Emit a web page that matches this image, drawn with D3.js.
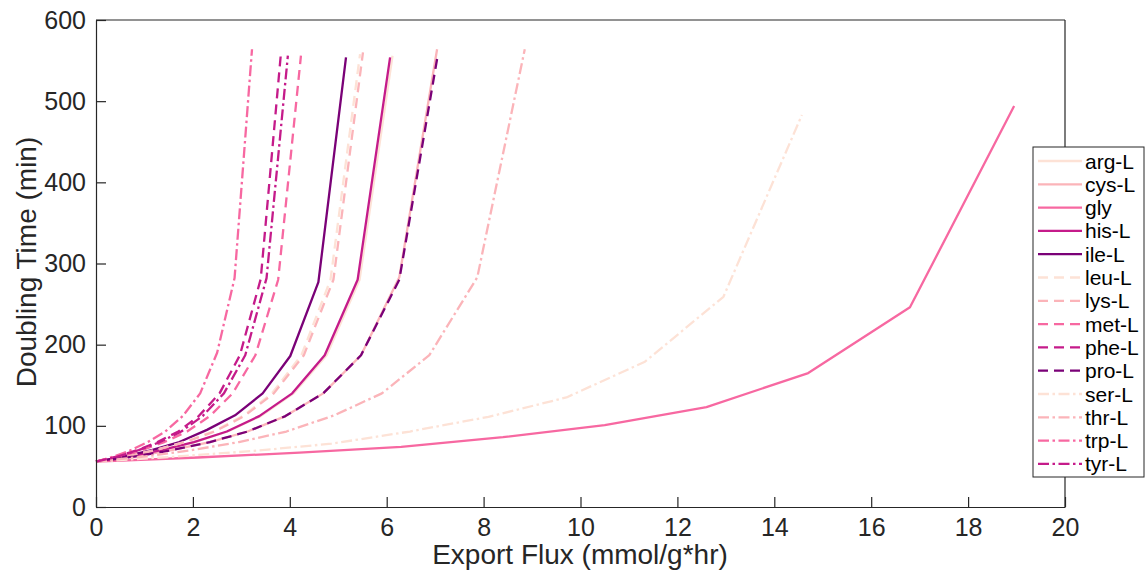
<!DOCTYPE html>
<html>
<head>
<meta charset="utf-8">
<script src="https://cdn.jsdelivr.net/npm/d3@7"></script>
<style>
  html, body { margin: 0; padding: 0; background: #fff; }
  svg { display: block; font-family: "Liberation Sans", Arial, Helvetica, sans-serif; }
</style>
</head>
<body>
<svg id="chart" width="1147" height="571"></svg>
<script>
// ---------------- data ----------------
const seriesNames = ["arg-L","cys-L","gly","his-L","ile-L","leu-L","lys-L","met-L","phe-L","pro-L","ser-L","thr-L","trp-L","tyr-L"];

const fluxArg = [0,0.68,1.36,2.04,2.72,3.40,4.08,4.76,5.44,6.12];
const timeArg = [56,62,70,80,93,112,140,187,280,556];
const fluxCys = [0,0.78,1.56,2.35,3.13,3.91,4.69,5.47,6.26,7.04];
const timeCys = [56,62,70,80,93,112,140,187,283,564];
const fluxGly = [0,2.1,4.2,6.3,8.4,10.5,12.6,14.7,16.8,18.95];
const timeGly = [56,61,67,74,86,101,123,165,246,494];
const fluxHis = [0,0.67,1.35,2.02,2.70,3.37,4.05,4.72,5.40,6.07];
const timeHis = [56,62,70,80,93,112,140,187,280,554];
const fluxIle = [0,0.57,1.15,1.72,2.29,2.87,3.44,4.01,4.59,5.16];
const timeIle = [56,62,70,80,95,113,140,186,277,554];
const fluxLeu = [0,0.61,1.21,1.82,2.42,3.03,3.63,4.24,4.84,5.45];
const timeLeu = [56,62,70,80,93,112,140,187,280,558];
const fluxLys = [0,0.61,1.22,1.84,2.45,3.06,3.67,4.29,4.90,5.51];
const timeLys = [56,62,70,80,93,112,140,187,280,560];
const fluxMet = [0,0.47,0.94,1.41,1.88,2.35,2.82,3.29,3.76,4.23];
const timeMet = [56,62,70,80,93,112,140,187,280,556];
const fluxPhe = [0,0.42,0.85,1.27,1.70,2.12,2.55,2.97,3.40,3.82];
const timePhe = [56,62,70,80,93,112,140,187,281,561];
const fluxPro = [0,0.78,1.56,2.35,3.13,3.91,4.69,5.47,6.26,7.04];
const timePro = [56,62,70,80,93,112,140,187,280,552];
const fluxSer = [0,1.62,3.24,4.86,6.48,8.10,9.71,11.33,12.95,14.57];
const timeSer = [56,62,69,78,93,111,135,179,259,483];
const fluxThr = [0,0.98,1.97,2.95,3.93,4.92,5.90,6.88,7.87,8.85];
const timeThr = [56,62,70,80,93,113,140,187,283,564];
const fluxTrp = [0,0.36,0.72,1.07,1.43,1.79,2.15,2.50,2.86,3.22];
const timeTrp = [56,62,70,80,93,112,140,190,282,564];
const fluxTyr = [0,0.44,0.88,1.32,1.76,2.20,2.64,3.08,3.52,3.96];
const timeTyr = [56,62,70,80,93,112,140,187,282,556];

const xTicks = [0,2,4,6,8,10,12,14,16,18,20];
const yTicks = [0,100,200,300,400,500,600];

// ---------------- styles ----------------
const palette = ["#fde2d6","#fbb4b9","#f768a1","#c51b8a","#7a0177"];
const dashStyles = { solid: null, dashed: "10,6", dashdot: "11,3.5,2.5,3.5" };
const lineKinds = ["solid","solid","solid","solid","solid","dashed","dashed","dashed","dashed","dashed","dashdot","dashdot","dashdot","dashdot"];
const lineColors = [0,1,2,3,4,0,1,2,3,4,0,1,2,3].map(i => palette[i]);

const fluxData = [fluxArg,fluxCys,fluxGly,fluxHis,fluxIle,fluxLeu,fluxLys,fluxMet,fluxPhe,fluxPro,fluxSer,fluxThr,fluxTrp,fluxTyr];
const timeData = [timeArg,timeCys,timeGly,timeHis,timeIle,timeLeu,timeLys,timeMet,timePhe,timePro,timeSer,timeThr,timeTrp,timeTyr];

// ---------------- layout ----------------
const svg = d3.select("#chart");
const pLeft = 96, pRight = 1065, pTop = 20, pBottom = 507;
const axisColor = "#262626";

const x = d3.scaleLinear().domain([0, 20]).range([pLeft, pRight]);
const y = d3.scaleLinear().domain([0, 600]).range([pBottom, pTop]);

// lines
const line = d3.line().x(d => x(d[0])).y(d => y(d[1]));
seriesNames.forEach((name, i) => {
  const pts = fluxData[i].map((f, j) => [f, timeData[i][j]]);
  svg.append("path")
    .datum(pts)
    .attr("d", line)
    .attr("fill", "none")
    .attr("stroke", lineColors[i])
    .attr("stroke-width", 2.3)
    .attr("stroke-linejoin", "round")
    .attr("stroke-dasharray", dashStyles[lineKinds[i]]);
});

// axes
const xAxis = d3.axisBottom(x).tickValues(xTicks).tickSizeInner(-10).tickSizeOuter(0).tickPadding(11).tickFormat(d3.format("d"));
const yAxis = d3.axisLeft(y).tickValues(yTicks).tickSizeInner(-10).tickSizeOuter(0).tickPadding(10).tickFormat(d3.format("d"));

const gx = svg.append("g").attr("transform", `translate(0,${pBottom})`).call(xAxis);
const gy = svg.append("g").attr("transform", `translate(${pLeft},0)`).call(yAxis);
[gx, gy].forEach(g => {
  g.select(".domain").attr("stroke", axisColor).attr("stroke-width", 1.2);
  g.selectAll(".tick line").attr("stroke", axisColor).attr("stroke-width", 1.2);
  g.selectAll(".tick text").attr("fill", axisColor).style("font-size", "25px");
});

// box top/right
svg.append("line").attr("x1", pLeft).attr("x2", pRight).attr("y1", pTop).attr("y2", pTop)
  .attr("stroke", axisColor).attr("stroke-width", 1.2);
svg.append("line").attr("x1", pRight).attr("x2", pRight).attr("y1", pTop).attr("y2", pBottom)
  .attr("stroke", axisColor).attr("stroke-width", 1.2);

// axis labels
svg.append("text").attr("x", 580).attr("y", 564)
  .attr("text-anchor", "middle").attr("fill", axisColor).style("font-size", "28px")
  .text("Export Flux (mmol/g*hr)");
svg.append("text").attr("transform", `translate(36,262) rotate(-90)`)
  .attr("text-anchor", "middle").attr("fill", axisColor).style("font-size", "28px")
  .text("Doubling Time (min)");

// legend
const lgX = 1033, lgY = 147, lgW = 111, lgH = 330, rowH = 23.3;
const lg = svg.append("g");
lg.append("rect").attr("x", lgX).attr("y", lgY).attr("width", lgW).attr("height", lgH)
  .attr("fill", "#fff").attr("stroke", axisColor).attr("stroke-width", 1);
seriesNames.forEach((name, i) => {
  const cy = 161 + i * rowH;
  lg.append("line").attr("x1", 1038).attr("x2", 1082).attr("y1", cy).attr("y2", cy)
    .attr("stroke", lineColors[i]).attr("stroke-width", 2.3)
    .attr("stroke-dasharray", dashStyles[lineKinds[i]]);
  lg.append("text").attr("x", 1085).attr("y", cy).attr("dy", "0.36em")
    .attr("fill", "#000").style("font-size", "21px").text(name);
});
</script>
</body>
</html>
